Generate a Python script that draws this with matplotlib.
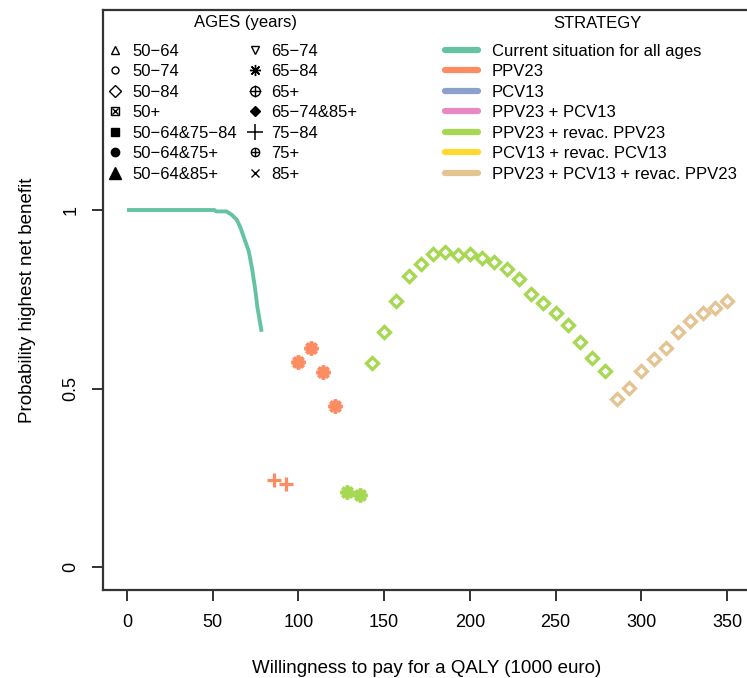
import numpy as np
import matplotlib
matplotlib.use("Agg")
import matplotlib.pyplot as plt
from matplotlib.lines import Line2D
from matplotlib.legend_handler import HandlerTuple

plt.rcParams['font.family'] = ['Liberation Sans', 'DejaVu Sans']

# strategy colours (Set2)
strategies = ["Current situation for all ages", "PPV23", "PCV13", "PPV23 + PCV13",
              "PPV23 + revac. PPV23", "PCV13 + revac. PCV13",
              "PPV23 + PCV13 + revac. PPV23"]
strat_cols = ["#66C2A5", "#FC8D62", "#8DA0CB", "#E78AC3", "#A6D854", "#FFD92F", "#E5C494"]

# current situation curve
cur_x = [0, 51, 52, 58, 61, 64, 66, 69, 71, 73, 75, 76, 78.5]
cur_y = [1, 1, 0.996, 0.996, 0.987, 0.973, 0.953, 0.912, 0.885, 0.835, 0.77, 0.73, 0.659]

# WTP grid for the points
step = 350 / 49.0
# PPV23, ages 75-84 (+)
ppv_plus_k = [12, 13]
ppv_plus_y = [0.244, 0.232]
# PPV23, ages 65-84 (*)
ppv_star_k = [14, 15, 16, 17]
ppv_star_y = [0.575, 0.615, 0.547, 0.451]
# PPV23 + revac, ages 65-84 (*)
rev_star_k = [18, 19]
rev_star_y = [0.211, 0.202]
# PPV23 + revac, ages 50-84 (diamond)
rev_dia_k = list(range(20, 40))
rev_dia_y = [0.571, 0.659, 0.746, 0.816, 0.849, 0.877, 0.883, 0.874, 0.877, 0.865,
             0.855, 0.834, 0.807, 0.765, 0.741, 0.712, 0.678, 0.631, 0.585, 0.549]
# PPV23 + PCV13 + revac, ages 50-84 (diamond)
all_dia_k = list(range(40, 50))
all_dia_y = [0.470, 0.503, 0.549, 0.582, 0.613, 0.659, 0.690, 0.712, 0.726, 0.746]

W, H = 747, 678
fig = plt.figure(figsize=(W / 100, H / 100), dpi=100)
ax = fig.add_axes([103 / W, 88 / H, 648 / W, 580 / H])

ax.plot(cur_x, cur_y, color=strat_cols[0], lw=2.8, solid_capstyle='butt')

star = (8, 2, 0)
ax.plot(np.array(ppv_plus_k) * step, ppv_plus_y, ls='none', marker='+', ms=10,
        mew=2.3, color=strat_cols[1])
ax.plot(np.array(ppv_star_k) * step, ppv_star_y, ls='none', marker=star, ms=10,
        mew=2.6, color=strat_cols[1])
ax.plot(np.array(rev_star_k) * step, rev_star_y, ls='none', marker=star, ms=10,
        mew=2.6, color=strat_cols[4])
ax.plot(np.array(rev_dia_k) * step, rev_dia_y, ls='none', marker='D', ms=6,
        mew=2.4, mfc='none', mec=strat_cols[4])
ax.plot(np.array(all_dia_k) * step, all_dia_y, ls='none', marker='D', ms=6,
        mew=2.4, mfc='none', mec=strat_cols[6])

ax.set_xlim(-14, 364)
ax.set_ylim(-0.064, 1.56)
ax.set_xticks([0, 50, 100, 150, 200, 250, 300, 350])
ax.set_yticks([0, 0.5, 1])
ax.set_yticklabels(["0", "0.5", "1"], rotation=90, va='center')
ax.tick_params(length=8, width=1.3, labelsize=13, pad=9, color='#222222')
for s in ax.spines.values():
    s.set_linewidth(1.6)
    s.set_color('#333333')
ax.set_xlabel("Willingness to pay for a QALY (1000 euro)", fontsize=13.5, labelpad=21)
ax.set_ylabel("Probability highest net benefit", fontsize=13.5, labelpad=19)

# AGES legend
k = dict(ls='none', color='black', ms=6, mew=1.0)
age_labels = ["50\u221264", "50\u221274", "50\u221284", "50+", "50\u221264&75\u221284",
              "50\u221264&75+", "50\u221264&85+", "65\u221274", "65\u221284", "65+",
              "65\u221274&85+", "75\u221284", "75+", "85+"]
age_handles = [
    Line2D([], [], marker='^', mfc='none', **k),
    Line2D([], [], marker='o', mfc='none', ls='none', color='black', ms=5, mew=1.0),
    Line2D([], [], marker='D', mfc='none', ls='none', color='black', ms=6, mew=1.0),
    (Line2D([], [], marker='s', mfc='none', **k),
     Line2D([], [], marker='x', ls='none', color='black', ms=4, mew=1.0)),
    Line2D([], [], marker='s', **k),
    Line2D([], [], marker='o', ls='none', color='black', ms=6),
    Line2D([], [], marker='^', ls='none', color='black', ms=8),
    Line2D([], [], marker='v', mfc='none', **k),
    Line2D([], [], marker=(8, 2, 0), ls='none', color='black', ms=8, mew=1.0),
    (Line2D([], [], marker='o', mfc='none', ls='none', color='black', ms=7, mew=1.0),
     Line2D([], [], marker='+', ls='none', color='black', ms=8, mew=1.0)),
    Line2D([], [], marker='D', ls='none', color='black', ms=5),
    Line2D([], [], marker='+', ls='none', color='black', ms=11, mew=1.1),
    (Line2D([], [], marker='o', mfc='none', ls='none', color='black', ms=6, mew=1.0),
     Line2D([], [], marker='+', ls='none', color='black', ms=6, mew=1.0)),
    Line2D([], [], marker='x', ls='none', color='black', ms=6, mew=1.0),
]
leg1 = ax.legend(age_handles, age_labels, ncol=2, frameon=False, fontsize=12,
                 loc='upper left',
                 bbox_to_anchor=(102 / W, 1 - 37 / H), bbox_transform=fig.transFigure,
                 handlelength=0.8, handletextpad=0.62, columnspacing=0.66,
                 labelspacing=0.33, borderaxespad=0,
                 handler_map={tuple: HandlerTuple(ndivide=1, pad=0)})
ax.add_artist(leg1)

strat_handles = [Line2D([], [], color=c, lw=4.5, solid_capstyle='round') for c in strat_cols]
leg2 = ax.legend(strat_handles, strategies, frameon=False, fontsize=12,
                 loc='upper left',
                 bbox_to_anchor=(438 / W, 1 - 37 / H), bbox_transform=fig.transFigure,
                 handlelength=2.0, handletextpad=0.84,
                 labelspacing=0.33, borderaxespad=0)

fig.text(245 / W, 1 - 23 / H, "AGES (years)", fontsize=12, ha='center', va='center')
fig.text(597 / W, 1 - 23 / H, "STRATEGY", fontsize=12, ha='center', va='center')

fig.savefig("out.png", dpi=100)
